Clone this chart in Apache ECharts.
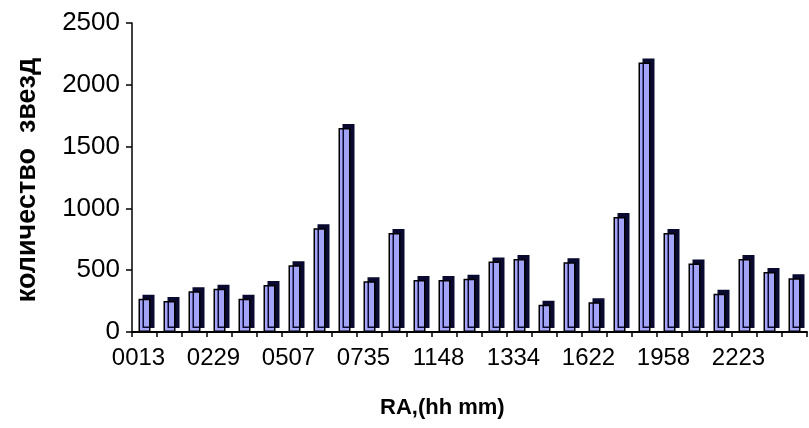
<!DOCTYPE html>
<html>
<head>
<meta charset="utf-8">
<script src="https://cdn.jsdelivr.net/npm/echarts@6/dist/echarts.min.js"></script>
<style>
html,body{margin:0;padding:0;background:#fff;}
#chart{width:809px;height:428px;}
</style>
</head>
<body>
<div id="chart"></div>
<script>
// Tick labels shown on the category axis (every third category)
var tickLabels = ['0013','0229','0507','0735','1148','1334','1622','1958','2223'];
// Number of stars per RA bin (27 bins)
var starCounts = [270,250,330,350,270,380,540,840,1650,410,800,420,420,430,570,590,220,565,240,930,2180,800,555,310,590,485,435];
var categories = starCounts.map(function(_, i){ return 'c' + i; });

var chart = echarts.init(document.getElementById('chart'));
chart.setOption({
  animation: false,
  backgroundColor: '#fff',
  grid: {left: 132, top: 23, width: 675, height: 309, containLabel: false},
  xAxis: {
    type: 'category',
    data: categories,
    boundaryGap: true,
    axisLine: {show: true, lineStyle: {color: '#000', width: 2}},
    axisTick: {show: true, interval: 0, length: 5, lineStyle: {color: '#000', width: 1.5}},
    axisLabel: {
      interval: 0,
      margin: 14,
      color: '#000',
      fontFamily: 'Liberation Sans',
      fontSize: 24,
      padding: [0, 12, 0, 0],
      formatter: function(v, i){ return i % 3 === 0 ? tickLabels[i/3] : ''; }
    },
    splitLine: {show: false}
  },
  yAxis: {
    type: 'value',
    min: 0, max: 2500, interval: 500,
    axisLine: {show: true, lineStyle: {color: '#000', width: 1.5}},
    axisTick: {show: true, length: 6, lineStyle: {color: '#000', width: 1.5}},
    axisLabel: {color: '#000', fontFamily: 'Liberation Sans', fontSize: 26, margin: 12,
      formatter: function(v){ return String(v); }},
    splitLine: {show: false}
  },
  graphic: [
    {
      type: 'text',
      left: 380, top: 397,
      style: {text: 'RA,(hh mm)', font: 'bold 22px "Liberation Sans"', fill: '#000'}
    },
    {
      type: 'text',
      x: 28, y: 180,
      rotation: Math.PI/2,
      style: {text: 'количество  звезд', font: 'bold 27px "Liberation Sans"', fill: '#000', align: 'center', verticalAlign: 'middle'}
    }
  ],
  series: [{
    type: 'bar',
    data: starCounts,
    barWidth: 12,
    itemStyle: {
      color: '#a3a3f7',
      borderColor: '#000',
      borderWidth: 1.5,
      shadowColor: '#0a0a30',
      shadowOffsetX: 4,
      shadowOffsetY: -4,
      shadowBlur: 0
    }
  }]
});
</script>
</body>
</html>
